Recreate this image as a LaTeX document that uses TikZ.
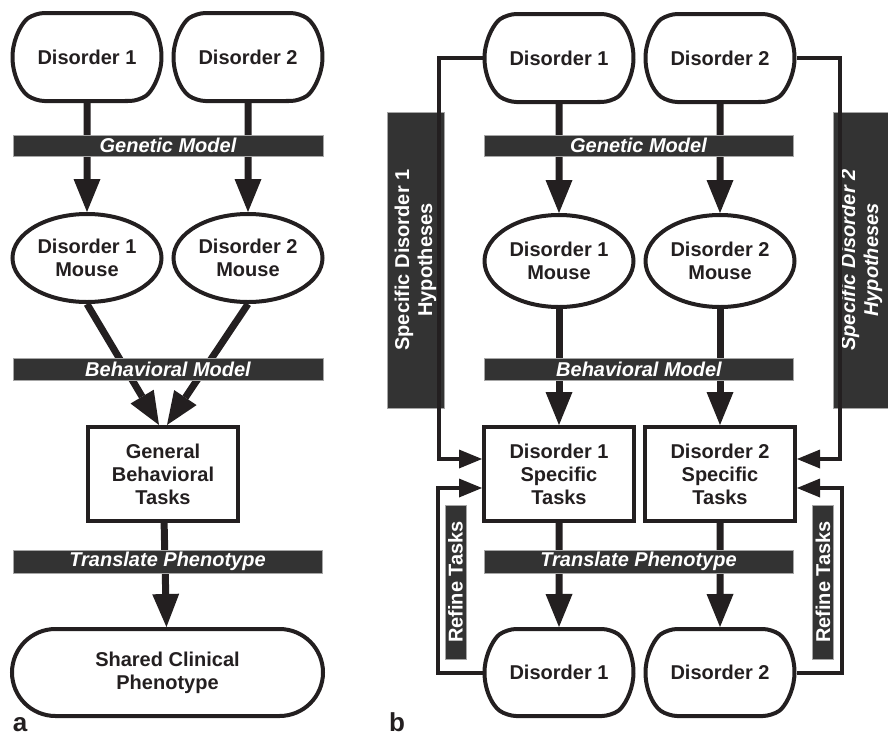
\documentclass[tikz,border=0pt]{standalone}
\usepackage{fontspec}
\setmainfont{Liberation Sans}
\usepackage{tikz}
\usetikzlibrary{arrows.meta,shapes.geometric,shapes.misc,positioning}
\definecolor{ink}{HTML}{231F20}
\definecolor{bandgray}{HTML}{333333}

\tikzset{
  disorder/.style={rounded rectangle, rounded rectangle arc length=110,
    rounded corners=9pt, draw=ink,
    line width=4pt, minimum width=149pt, minimum height=88pt, inner sep=0pt,
    text=ink, align=center},
  mouse/.style={ellipse, draw=ink, line width=4pt, minimum width=149pt,
    minimum height=88pt, inner sep=0pt, text=ink, align=center},
  task/.style={rectangle, draw=ink, line width=4pt, minimum width=150pt,
    minimum height=94pt, inner sep=0pt, text=ink, align=center},
  band/.style={fill=bandgray, draw=gray!70, line width=0.8pt, text=white,
    inner sep=0pt, align=center},
  slanted/.style={font=\fontsize{20}{23}\selectfont\bfseries\itshape},
  bigarrow/.style={draw=ink, line width=7pt,
    -{Triangle[length=33pt,width=27pt,line width=0pt]}},
  thinarrow/.style={draw=ink, line width=4pt,
    -{Triangle[length=23pt,width=19pt,line width=0pt]}},
}

\begin{document}
\begin{tikzpicture}[x=1pt, y=-1pt, font=\fontsize{20}{23}\selectfont\bfseries]
\useasboundingbox (0,0) rectangle (888,736);

% (a) shared phenotype
\node[disorder] (a1) at (87,57) {Disorder 1};
\node[disorder] (a2) at (248,57) {Disorder 2};
\node[mouse] (am1) at (87,258) {Disorder 1\\Mouse};
\node[mouse] (am2) at (248,258) {Disorder 2\\Mouse};
\node[task] (gen) at (163,474) {General\\Behavioral\\Tasks};
\node[rounded rectangle, draw=ink, line width=4pt, minimum width=311pt,
  minimum height=87pt, inner sep=0pt, text=ink, align=center]
  (shared) at (167.5,672.5) {Shared Clinical\\Phenotype};

\draw[bigarrow] (a1) -- (am1);
\draw[bigarrow] (a2) -- (am2);
\draw[bigarrow] (am1.south) -- ([xshift=-4pt]gen.north);
\draw[bigarrow] (am2.south) -- ([xshift=4pt]gen.north);
\draw[bigarrow] (gen) -- (shared);

\node[band, slanted, minimum width=310pt, minimum height=21pt] (agenetic) at (168,145.5) {Genetic Model};
\node[band, slanted, minimum width=310pt, minimum height=22pt] (abehav) at (168,369) {Behavioral Model};
\node[band, slanted, minimum width=309pt, minimum height=23pt] (atrans) at (167.5,561.5) {Translate Phenotype};

\node[font=\fontsize{26}{26}\selectfont\bfseries, text=ink, anchor=base, inner sep=0pt] (lbla) at (20,731) {a};

% (b) disorder specific
\node[disorder] (b1) at (559,58) {Disorder 1};
\node[disorder] (b2) at (720,58) {Disorder 2};
\node[mouse, minimum height=92pt] (bm1) at (559,261) {Disorder 1\\Mouse};
\node[mouse, minimum height=92pt] (bm2) at (720,261) {Disorder 2\\Mouse};
\node[task] (bt1) at (559,474) {Disorder 1\\Specific\\Tasks};
\node[task] (bt2) at (720,474) {Disorder 2\\Specific\\Tasks};
\node[disorder, minimum height=87pt] (bb1) at (559,672.5) {Disorder 1};
\node[disorder, minimum height=87pt] (bb2) at (720,672.5) {Disorder 2};

\draw[bigarrow] (b1) -- (bm1);
\draw[bigarrow] (b2) -- (bm2);
\draw[bigarrow] (bm1) -- (bt1);
\draw[bigarrow] (bm2) -- (bt2);
\draw[bigarrow] (bt1) -- (bb1);
\draw[bigarrow] (bt2) -- (bb2);

\node[band, slanted, minimum width=309pt, minimum height=21pt] (bgenetic) at (638.5,145.5) {Genetic Model};
\node[band, slanted, minimum width=309pt, minimum height=22pt] (bbehav) at (639,369) {Behavioral Model};
\node[band, slanted, minimum width=309pt, minimum height=23pt] (btrans) at (638.5,561.5) {Translate Phenotype};

% side bars
\node[band, rotate=90, minimum width=296pt, minimum height=57pt] (hyp1) at (415.5,260) {Specific Disorder 1\\Hypotheses};
\node[band, slanted, rotate=90, minimum width=296pt, minimum height=57pt] (hyp2) at (861.5,260) {Specific Disorder 2\\Hypotheses};
\node[band, rotate=90, minimum width=154pt, minimum height=21pt] (ref1) at (455.5,582) {Refine Tasks};
\node[band, rotate=90, minimum width=154pt, minimum height=21pt] (ref2) at (823,582) {Refine Tasks};

% feedback loops
\coordinate (h1) at (439,459);
\coordinate (h2) at (840,459);
\coordinate (r1) at (438,488);
\coordinate (r2) at (842,488);
\draw[thinarrow] (b1.west) -| (h1) -- (h1 -| bt1.west);
\draw[thinarrow] (b2.east) -| (h2) -- (h2 -| bt2.east);
\draw[thinarrow] (bb1.west) -| (r1) -- (r1 -| bt1.west);
\draw[thinarrow] (bb2.east) -| (r2) -- (r2 -| bt2.east);

\node[font=\fontsize{26}{26}\selectfont\bfseries, text=ink, anchor=base, inner sep=0pt] (lblb) at (397,731) {b};
\end{tikzpicture}
\end{document}
